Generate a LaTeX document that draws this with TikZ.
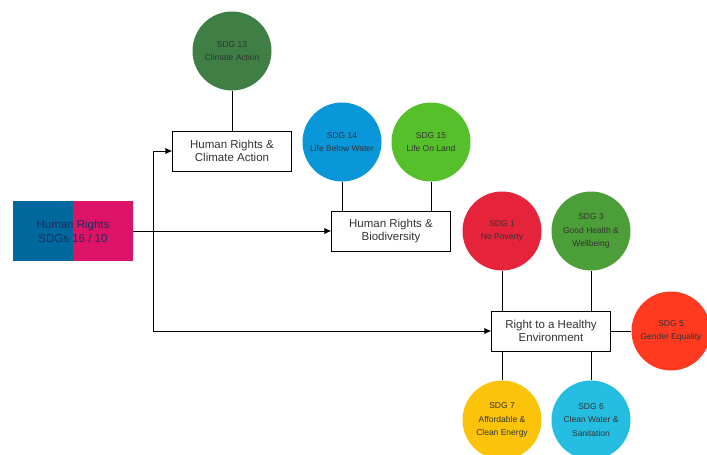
\documentclass[tikz,border=0pt]{standalone}
\usepackage{fontspec}
\setmainfont{Liberation Sans}
\usepackage{tikz}
\usetikzlibrary{arrows.meta}

\definecolor{sdgone}{HTML}{E5243B}
\definecolor{sdgthree}{HTML}{4C9F38}
\definecolor{sdgfive}{HTML}{FF3A21}
\definecolor{sdgsix}{HTML}{26BDE2}
\definecolor{sdgseven}{HTML}{FCC30B}
\definecolor{sdgten}{HTML}{DD1367}
\definecolor{sdgthirteen}{HTML}{3F7E44}
\definecolor{sdgfourteen}{HTML}{0A97D9}
\definecolor{sdgfifteen}{HTML}{56C02B}
\definecolor{sdgsixteen}{HTML}{00689D}
\definecolor{hrtext}{HTML}{1F2E5C}

\begin{document}
\begin{tikzpicture}[x=1pt,y=-1pt,
    sdg/.style={shape=circle,minimum size=79pt,inner sep=0pt,align=center,
        font=\fontsize{8.5}{13.5}\selectfont,text=black!80},
    rightsbox/.style={shape=rectangle,draw=black,fill=white,minimum width=119pt,
        minimum height=40pt,align=center,font=\fontsize{11.5}{13}\selectfont,text=black!80}]
    	
    	\useasboundingbox (0,0) rectangle (707,455);
    	
    	\fill[sdgsixteen] (13,201) rectangle (73,261);
    	\fill[sdgten] (73,201) rectangle (133,261);
    	\node[shape=rectangle,minimum width=120pt,minimum height=60pt,align=center,
    	    font=\fontsize{11.5}{14}\selectfont,text=hrtext] (hr) at (73,231) {Human Rights\\SDGs 16 / 10};
    	
    	\node[rightsbox] (climate) at (232,151)     {Human Rights \&\\Climate Action};
    	\node[rightsbox] (bio) at (391,231)         {Human Rights \&\\Biodiversity};
    	\node[rightsbox] (healthy) at (551,331)     {Right to a Healthy\\Environment};
    	
    	\node[sdg,fill=sdgthirteen] (c13) at (232,51)  {SDG 13\\Climate Action};
    	\node[sdg,fill=sdgfourteen] (c14) at (342,142) {SDG 14\\Life Below Water};
    	\node[sdg,fill=sdgfifteen] (c15) at (431,142)  {SDG 15\\Life On Land};
    	\node[sdg,fill=sdgone] (c1) at (502,231)       {SDG 1\\No Poverty};
    	\node[sdg,fill=sdgthree] (c3) at (591,231)     {SDG 3\\Good Health \&\\Wellbeing};
    	\node[sdg,fill=sdgfive] (c5) at (671,331)      {SDG 5\\Gender Equality};
    	\node[sdg,fill=sdgseven] (c7) at (502,420)     {SDG 7\\Affordable \&\\Clean Energy};
    	\node[sdg,fill=sdgsix] (c6) at (591,420)       {SDG 6\\Clean Water \&\\Sanitation};
    	
    	\path[-{Latex[length=7pt,width=6.5pt]}, line width=1pt] (hr.east) edge (bio.west);
    	\draw[-{Latex[length=7pt,width=6.5pt]}, line width=1pt] (hr.east) -- ++(20,0) |- (climate.west);
    	\draw[-{Latex[length=7pt,width=6.5pt]}, line width=1pt] (hr.east) -- ++(20,0) |- (healthy.west);
    	
    	\path[-, line width=1pt] (c13) edge (climate);
    	\path[-, line width=1pt] (c14.south) edge (c14.south |- bio.north);
    	\path[-, line width=1pt] (c15.south) edge (c15.south |- bio.north);
    	\path[-, line width=1pt] (c1.south) edge (c1.south |- healthy.north);
    	\path[-, line width=1pt] (c3.south) edge (c3.south |- healthy.north);
    	\path[-, line width=1pt] (c5) edge (healthy);
    	\path[-, line width=1pt] (c7.north) edge (c7.north |- healthy.south);
    	\path[-, line width=1pt] (c6.north) edge (c6.north |- healthy.south);
    	
    	\end{tikzpicture}
\end{document}
